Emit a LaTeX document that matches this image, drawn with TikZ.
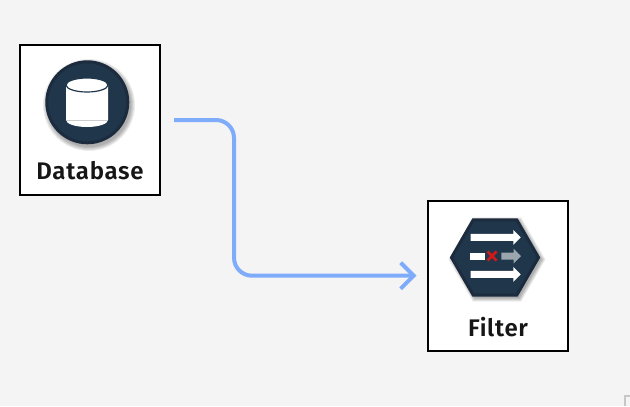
\documentclass[tikz,border=0pt]{standalone}
\usepackage{xcolor}
\usepackage{fontspec}
\setmainfont{Fira Sans}[BoldFont={Fira Sans SemiBold}, LetterSpace=3]
\usetikzlibrary{shapes,arrows.meta,positioning,calc}
\definecolor{pagebg}{HTML}{F4F4F4}
\definecolor{iconfill}{HTML}{20364B}
\definecolor{iconrim}{HTML}{1C2C3E}
\definecolor{linkblue}{HTML}{7FACFA}
\definecolor{labelink}{HTML}{161616}
\def\px{0.75pt}
\tikzset{
    card/.style={draw=black, fill=white, line width=2*\px, rectangle, inner sep=0, outer sep=0, minimum width=140*\px, minimum height=150*\px},
    cardlabel/.style={anchor=base, inner sep=0, text=labelink, font=\fontsize{18pt}{20pt}\selectfont\bfseries},
    roundicon/.style={circle, inner sep=0, outer sep=0, minimum size=81*\px},
    hexicon/.style={regular polygon, regular polygon sides=6, inner sep=0, outer sep=0, minimum size=87*\px},
    flowarrow/.style={single arrow, fill=white, inner ysep=3.2*\px, inner xsep=0, outer sep=0, single arrow head extend=4*\px, single arrow head indent=0pt},
    link/.style={draw=linkblue, line width=4*\px, rounded corners=18*\px, -{Straight Barb[length=13*\px, width=26*\px]}, shorten <=14*\px, shorten >=11.5*\px}
}

\begin{document}
\begin{tikzpicture}[x=0.75pt, y=-0.75pt]
    \useasboundingbox[fill=pagebg] (0,0) rectangle (630,406);
    \draw[draw=black!22, line width=2*\px] (625,406) -- (625,395.5) -- (632,395.5);

    \node[card] (database) at (90,120) {};
    \node[card] (filter) at (498,275.7) {};

    % database icon
    \foreach \g in {4,3,2,1,0}
        \node[roundicon, fill=black, fill opacity=0.07, minimum size=(84+2*\g)*\px] at (89,105) {};
    \node[roundicon, fill=iconfill, draw=iconrim, line width=3*\px] (dbicon) at (87.3,102.3) {};
    \fill[white] (66,85) -- (66,120) arc[start angle=180, end angle=0, x radius=21, y radius=7] -- (108,85) arc[start angle=0, end angle=-180, x radius=21, y radius=7] -- cycle;
    \draw[black!20, line width=0.8*\px] (66,120.5) -- (108,120.5);
    \draw[iconfill, line width=1.2*\px] (87,85) ellipse[x radius=21, y radius=7];
    \node[cardlabel] (dblabel) at (90,179.5) {Database};

    % filter icon
    \foreach \g in {4,3,2,1,0}
        \node[hexicon, fill=black, fill opacity=0.07, minimum size=(89+2*\g)*\px] at (497,259.5) {};
    \node[hexicon, fill=iconfill, draw=iconrim, line width=3*\px] (filtericon) at (495,257.5) {};
    \node[flowarrow, minimum height=50*\px] (passtop) at (494,237.3) {};
    \node[flowarrow, minimum height=50*\px] (passlow) at (494,274.3) {};
    \fill[white] (470,253) rectangle (484.7,259.5);
    \node[flowarrow, fill=white!55!iconfill, minimum height=19.5*\px] (blocked) at (509.5,256.2) {};
    \draw[draw=red!80!black!90, line width=2.8*\px] (487.5,251.5) -- (496.5,260.5) (487.5,260.5) -- (496.5,251.5);
    \node[cardlabel] (filterlabel) at (498,336) {Filter};

    % connector
    \coordinate (bend) at (234,200);
    \draw[link] (database.east) -| (bend) |- (filter.west);
\end{tikzpicture}
\end{document}
